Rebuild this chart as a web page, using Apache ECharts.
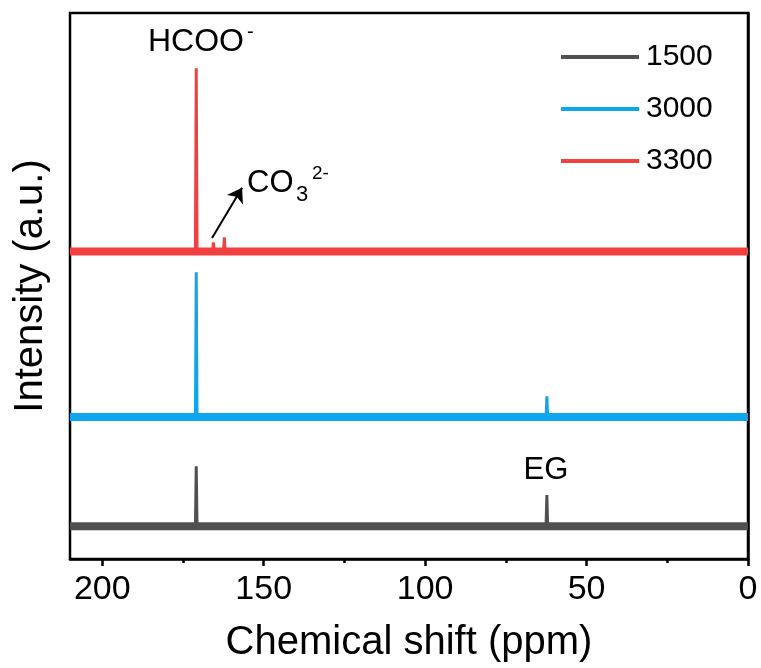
<!DOCTYPE html>
<html>
<head>
    <meta charset="utf-8">
    <title>NMR</title>
    <script src="https://cdn.jsdelivr.net/npm/echarts@6/dist/echarts.min.js"></script>
    <style>
        html, body { margin: 0; padding: 0; background: #fff; }
        #chart { width: 761px; height: 668px; }
    </style>
</head>
<body>
    <div id="chart"></div>
    <script>
        // data (ppm, intensity a.u.)
        var sampleNames = ['1500', '3000', '3300'];
        var baselines = [6.0, 26.0, 56.3];
        var peaks1500 = [[170.9, 17.0], [62.3, 11.7]];
        var peaks3000 = [[170.9, 52.5], [62.3, 29.8]];
        var peaks3300 = [[170.9, 89.9], [165.6, 58.0], [162.2, 58.9]];
        var xTicks = [0, 50, 100, 150, 200];
        var xMinorTicks = [25, 75, 125, 175];

        var colors = ['#505050', '#10a6ee', '#f23f3f'];
        var font = 'Liberation Sans, Arial, sans-serif';

        function spectrum(base, peaks) {
            var pts = [[210, base]];
            peaks.forEach(function (p) {
                pts.push([p[0] + 0.25, base], [p[0], p[1]], [p[0] - 0.25, base]);
            });
            pts.push([0, base]);
            return pts;
        }

        var allPeaks = [peaks1500, peaks3000, peaks3300];
        var series = [];
        sampleNames.forEach(function (name, i) {
            // thick band standing in for the noisy baseline
            series.push({
                name: name + ' base',
                type: 'line',
                data: [[210, baselines[i]], [0, baselines[i]]],
                symbol: 'none',
                lineStyle: { color: colors[i], width: 8 },
                z: 2 + i
            });
            series.push({
                name: name,
                type: 'line',
                data: spectrum(baselines[i], allPeaks[i]),
                symbol: 'none',
                color: colors[i],
                lineStyle: { color: colors[i], width: 3 },
                z: 2 + i
            });
        });

        // arrow pointing at the carbonate peak
        series[5].markLine = {
            silent: true,
            symbol: ['none', 'arrow'],
            symbolSize: 14,
            label: { show: false },
            lineStyle: { color: '#000', width: 2, type: 'solid' },
            data: [[{ coord: [166.0, 58.8] }, { coord: [156.7, 68.0] }]]
        };

        var chart = echarts.init(document.getElementById('chart'));
        chart.setOption({
            animation: false,
            textStyle: { fontFamily: font },
            grid: {
                left: 70, right: 13, top: 13, bottom: 108,
                show: true, borderColor: '#000', borderWidth: 2.5
            },
            legend: {
                data: sampleNames,
                orient: 'vertical',
                left: 556, top: 36,
                icon: 'rect',
                itemWidth: 78, itemHeight: 4,
                itemGap: 20,
                textStyle: { fontSize: 30, lineHeight: 32, color: '#000', fontFamily: font, padding: [0, 0, 0, 2] }
            },
            xAxis: [{
                type: 'value',
                inverse: true,
                min: 0, max: 210, interval: 50,
                name: 'Chemical shift (ppm)',
                nameLocation: 'middle',
                nameGap: 64,
                nameTextStyle: { fontSize: 40, color: '#000', fontFamily: font },
                axisLine: { show: true, lineStyle: { color: '#000', width: 2.5 } },
                axisTick: { show: true, inside: false, length: 7, customValues: xTicks, lineStyle: { color: '#000', width: 2.5 } },
                axisLabel: {
                    fontSize: 34, color: '#000', margin: 14, fontFamily: font,
                    customValues: xTicks
                },
                splitLine: { show: false }
            }, {
                // second axis only for the short in-between ticks
                type: 'value',
                position: 'bottom',
                inverse: true,
                min: 0, max: 210, interval: 25,
                axisLine: { show: false },
                axisTick: { show: true, inside: false, length: 4, customValues: xMinorTicks, lineStyle: { color: '#000', width: 2.5 } },
                axisLabel: { show: false },
                splitLine: { show: false }
            }],
            yAxis: {
                type: 'value',
                min: 0, max: 100,
                name: 'Intensity (a.u.)',
                nameLocation: 'middle',
                nameGap: 19,
                nameTextStyle: { fontSize: 40, color: '#000', fontFamily: font },
                axisLine: { show: true, lineStyle: { color: '#000', width: 2.5 } },
                axisTick: { show: false },
                axisLabel: { show: false },
                splitLine: { show: false }
            },
            graphic: [
                { type: 'text', x: 148, y: 42, style: { text: 'HCOO', font: '32px ' + font, fill: '#000', textVerticalAlign: 'middle' } },
                { type: 'text', x: 247, y: 32, style: { text: '-', font: '20px ' + font, fill: '#000', textVerticalAlign: 'middle' } },
                { type: 'text', x: 247, y: 183, style: { text: 'CO', font: '31px ' + font, fill: '#000', textVerticalAlign: 'middle' } },
                { type: 'text', x: 296, y: 195, style: { text: '3', font: '22px ' + font, fill: '#000', textVerticalAlign: 'middle' } },
                { type: 'text', x: 312, y: 174, style: { text: '2-', font: '19px ' + font, fill: '#000', textVerticalAlign: 'middle' } },
                { type: 'text', x: 546, y: 470, style: { text: 'EG', font: '31px ' + font, fill: '#000', textAlign: 'center', textVerticalAlign: 'middle' } }
            ],
            series: series
        });
    </script>
</body>
</html>
